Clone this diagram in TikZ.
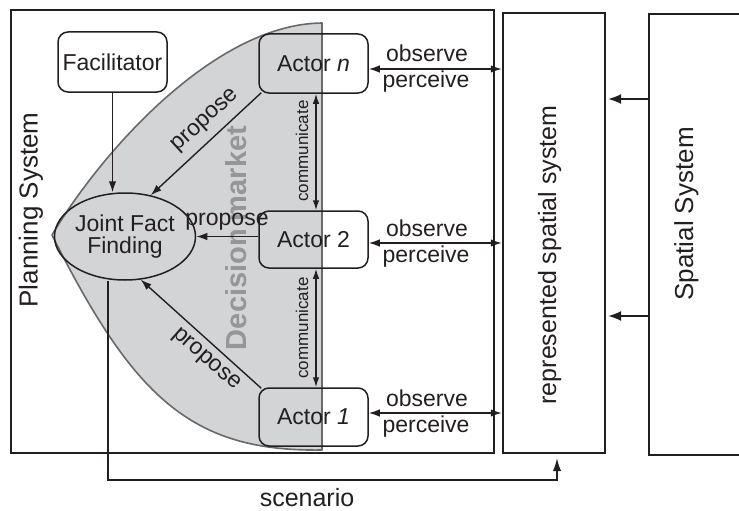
\documentclass[tikz,border=0pt]{standalone}
\usepackage{fontspec}
\setmainfont{Liberation Sans}
\usetikzlibrary{arrows.meta,shapes.geometric}
\definecolor{ink}{RGB}{35,31,32}
\definecolor{mktfill}{RGB}{211,212,214}
\definecolor{mktedge}{RGB}{105,105,105}
\definecolor{mkttext}{RGB}{150,150,152}
\newcommand{\txtsize}[1]{\fontsize{#1}{#1}\selectfont}

\begin{document}
\begin{tikzpicture}[x=1pt,y=-1pt,
  sysbox/.style={draw=ink,line width=2.4pt,inner sep=0pt},
  actorbox/.style={draw=ink,line width=1.5pt,rounded corners=10pt,inner sep=0pt,
    minimum width=109pt,text=ink,font=\txtsize{23}},
  lbl/.style={text=ink,font=\txtsize{23},inner sep=0pt},
  arr/.style={draw=ink,line width=1.4pt,-{Latex[length=11pt,width=7.5pt]}},
  darr/.style={draw=ink,line width=1.4pt,{Latex[length=11pt,width=7.5pt]}-{Latex[length=11pt,width=7.5pt]}},
  carr/.style={draw=ink,line width=1.3pt,{Latex[length=10pt,width=6.5pt]}-{Latex[length=10pt,width=6.5pt]}},
  bigarr/.style={draw=ink,line width=1.5pt,-{Latex[length=13pt,width=10pt]}}]

\useasboundingbox (0,0) rectangle (739,511);

% the three systems
\node[sysbox,minimum width=483pt,minimum height=443pt] (plan) at (252.5,231.5) {};
\node[sysbox,minimum width=102pt,minimum height=440pt] (rep) at (554,233) {};
\node[sysbox,minimum width=111pt,minimum height=441pt] (spatial) at (704.5,234.5) {};

\node[lbl,font=\txtsize{26},rotate=90,anchor=base] (plantxt) at (37.5,210) {Planning System};
\node[lbl,font=\txtsize{25},rotate=90,anchor=base] (reptxt) at (556,255) {represented spatial system};
\node[lbl,font=\txtsize{26},rotate=90,anchor=base] (spattxt) at (693,214) {Spatial System};

% decision market area
\filldraw[fill=mktfill,draw=mktedge,line width=1.6pt,line join=round]
  (52,235) .. controls (102,151) and (215,24) .. (322,23)
  -- (322,450) .. controls (190,452) and (133,396) .. cycle;
\node[text=mkttext,font=\txtsize{29}\bfseries,rotate=90,anchor=base,inner sep=0pt] (mkt) at (246,238) {Decision market};

% participants
\node[actorbox,minimum height=60pt,fill=white] (fac) at (112.5,62) {Facilitator};
\node[actorbox,minimum height=59pt] (actn) at (313.5,63.5) {Actor \textit{n}};
\node[actorbox,minimum height=57pt] (act2) at (313.5,239.5) {Actor 2};
\node[actorbox,minimum height=58pt] (act1) at (313.5,417) {Actor \textit{1}};
\node[ellipse,draw=ink,line width=1.5pt,minimum width=126pt,minimum height=87pt,
  inner sep=0pt,align=center,text=ink,font=\txtsize{23}] (jff) at (125,236.5)
  {Joint Fact\\[-0.5pt]Finding};

% proposals
\draw[arr] (fac.south) -- (jff.north -| fac.south);
\draw[arr] ([shift={(3,-1)}]actn.south west) -- (jff.58);
\draw[arr] (act2.west |- jff.east) -- (jff.east);
\draw[arr] ([shift={(3,1)}]act1.north west) -- (jff.-70);
\node[lbl,rotate=42.6] (p1) at (206,121) {propose};
\node[lbl,anchor=base] (p2) at (227,225) {propose};
\node[lbl,rotate=-41.2] (p3) at (206,360) {propose};

% communication between actors
\draw[carr] ([xshift=2.5pt]actn.south) -- ([xshift=2.5pt]act2.north);
\draw[carr] ([xshift=2.5pt]act2.south) -- ([xshift=2.5pt]act1.north);
\node[lbl,font=\txtsize{17},rotate=90,anchor=base] (c1) at (308,151) {communicate};
\node[lbl,font=\txtsize{17},rotate=90,anchor=base] (c2) at (308,328) {communicate};

% observation of the represented system
\draw[darr] ([yshift=-5.5pt]actn.east) -- ([yshift=-5.5pt]actn.east -| rep.west);
\draw[darr] ([yshift=-3.5pt]act2.east) -- ([yshift=-3.5pt]act2.east -| rep.west);
\draw[darr] ([yshift=4pt]act1.east) -- ([yshift=4pt]act1.east -| rep.west);
\node[lbl,anchor=base] (o1) at (427,62) {observe};
\node[lbl,anchor=base] (q1) at (426,88) {perceive};
\node[lbl,anchor=base] (o2) at (427,236) {observe};
\node[lbl,anchor=base] (q2) at (426,262) {perceive};
\node[lbl,anchor=base] (o3) at (427,406) {observe};
\node[lbl,anchor=base] (q3) at (426,432) {perceive};

% spatial system feeds its representation
\coordinate (s1) at (649,99);
\coordinate (s2) at (649,316);
\draw[bigarr,shorten >=2pt] (spatial.west |- s1) -- (rep.east |- s1);
\draw[bigarr,shorten >=2pt] (spatial.west |- s2) -- (rep.east |- s2);

% scenario
\coordinate (sc1) at (108,480);
\coordinate (sc2) at (557,480);
\draw[draw=ink,line width=1.5pt,-{Latex[length=13pt,width=8.5pt]},shorten >=4pt]
  (jff.south -| sc1) -- (sc1) -- (sc2) -- (sc2 |- rep.south);
\node[lbl,font=\txtsize{25},anchor=base] (scen) at (307,506) {scenario};
\end{tikzpicture}
\end{document}
